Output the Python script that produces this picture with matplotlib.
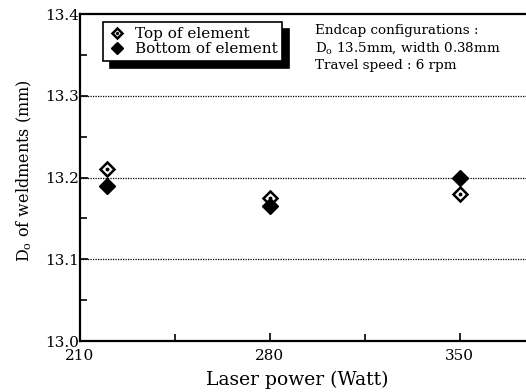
import matplotlib.pyplot as plt
from matplotlib.legend_handler import HandlerTuple

# laser power (W) and measured outer diameter (mm)
power = [220, 280, 350]
top_of_element = [13.21, 13.175, 13.18]
bottom_of_element = [13.19, 13.165, 13.20]

plt.rcParams['font.family'] = 'DejaVu Serif'

fig = plt.figure(figsize=(5.26, 3.92), dpi=100)
ax = fig.add_axes([0.152, 0.130, 0.877, 0.834])

# open diamond with a small dot in the middle
top_d, = ax.plot(power, top_of_element, 'D', ms=7, mfc='white', mec='black', mew=1.8, ls='none', zorder=3)
top_dot, = ax.plot(power, top_of_element, 'o', ms=1.8, color='black', ls='none', zorder=4)
bot, = ax.plot(power, bottom_of_element, 'D', ms=8, color='black', ls='none', zorder=3)

ax.set_xlim(210, 380)
ax.set_ylim(13.0, 13.4)
ax.set_xticks([210, 280, 350])
ax.set_xticks([245, 315], minor=True)
ax.set_yticks([13.0, 13.1, 13.2, 13.3, 13.4])
ax.set_yticks([13.05, 13.15, 13.25, 13.35], minor=True)
ax.set_yticklabels(['13.0', '13.1', '13.2', '13.3', '13.4'])
ax.tick_params(which='both', direction='in', labelsize=11, width=1.2)
ax.tick_params(which='major', length=6)
ax.tick_params(which='minor', length=5)
ax.tick_params(axis='x', pad=6)
ax.tick_params(axis='y', pad=1)

for y in [13.1, 13.2, 13.3]:
    ax.axhline(y, color='black', lw=0.9, ls=(0, (1, 1)), zorder=1)

for s in ['left', 'bottom', 'top']:
    ax.spines[s].set_linewidth(1.6)
ax.spines['right'].set_visible(False)

ax.set_xlabel('Laser power (Watt)', fontsize=13.5)
ax.xaxis.set_label_coords(0.47, -0.09)
ax.set_ylabel(r'D$_\mathregular{o}$ of weldments (mm)', fontsize=11.5)
ax.yaxis.set_label_coords(-0.10, 0.52)

leg = ax.legend([(top_d, top_dot), bot], ['Top of element', 'Bottom of element'],
                handler_map={tuple: HandlerTuple(ndivide=1)},
                loc='upper left', bbox_to_anchor=(0.05, 0.975), fontsize=11,
                fancybox=False, edgecolor='black', framealpha=1, markerscale=0.75,
                handlelength=1.2, handletextpad=0.6, borderpad=0.3, labelspacing=0.1,
                borderaxespad=0, shadow={'ox': 5, 'oy': -5, 'color': 'black', 'alpha': 1})
leg.get_frame().set_linewidth(1.2)

ax.text(0.51, 0.97, 'Endcap configurations :\n'
        r'D$_\mathregular{o}$ 13.5mm, width 0.38mm' '\n'
        'Travel speed : 6 rpm',
        transform=ax.transAxes, fontsize=9.7, va='top', ha='left', linespacing=1.3)

fig.savefig('out.png', dpi=100)
